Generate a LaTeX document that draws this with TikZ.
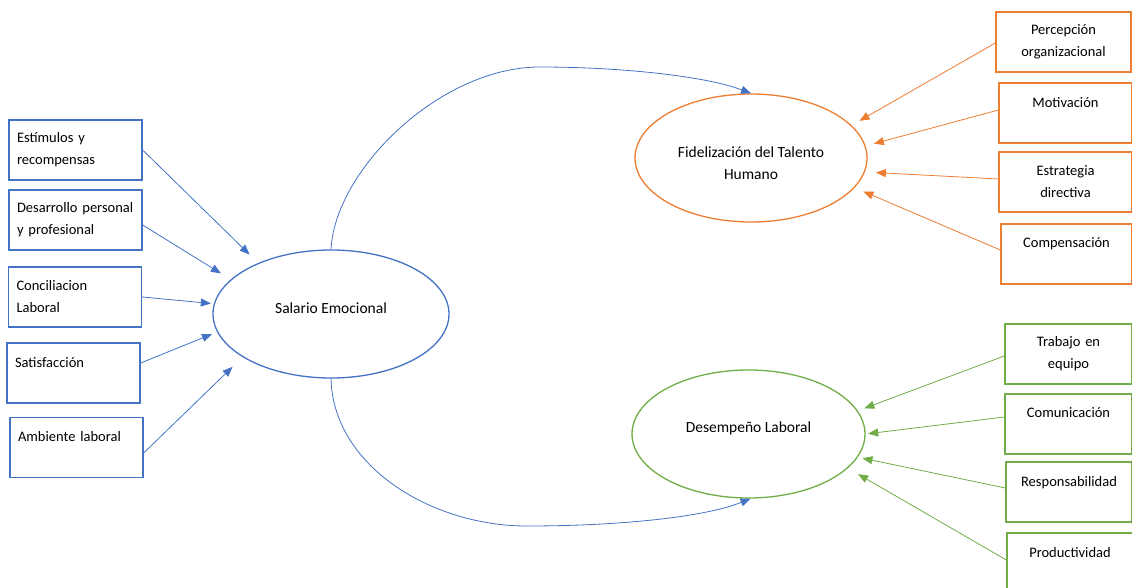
\documentclass[tikz,border=0pt]{standalone}
\usepackage{fontspec}
\setmainfont{Carlito}
\usetikzlibrary{arrows.meta, positioning, shapes.geometric}

\definecolor{salblue}{HTML}{4472C4}
\definecolor{fidorange}{HTML}{ED7D31}
\definecolor{desgreen}{HTML}{70AD47}

\begin{document}
\begin{tikzpicture}[x=1pt, y=-1pt,
  box/.style={draw, line width=1.3pt, minimum height=60pt, inner xsep=8pt, inner ysep=5pt,
    text=black, font=\fontsize{14.5}{22}\selectfont},
  leftbox/.style={box, draw=salblue, minimum width=133pt, text width=117pt, align=left},
  rightbox/.style={box, text width=110pt, align=center},
  oval/.style={ellipse, draw, line width=1.3pt, minimum height=128pt, inner sep=0pt,
    align=center, text=black, font=\fontsize{15.5}{22}\selectfont},
  link/.style={line width=0.8pt, -{Triangle[length=10pt,width=8pt]}}
]
  % Frame
  \clip (0,0) rectangle (1132,588);

  % Constructs
  \node[oval, draw=salblue, minimum width=236pt, text depth=12pt] (salario) at (331,314) {Salario Emocional};
  \node[oval, draw=fidorange, minimum width=232pt, text height=43pt] (fidel) at (751,158) {Fidelización del Talento\\Humano};
  \node[oval, draw=desgreen, minimum width=233pt, text depth=14pt] (desemp) at (748.5,434) {Desempeño Laboral};

  % Left indicators
  \foreach \n/\x/\y/\t in {estim/75.5/150/{Estímulos y\\recompensas},
      desarr/75.5/220/{Desarrollo personal\\y profesional},
      concil/75/297/{Conciliacion\\Laboral},
      satisf/73.5/373/{Satisfacción\\~},
      ambien/76.5/447.5/{Ambiente laboral\\~}} {
    \node[leftbox] (\n) at (\x,\y) {\t};
  }

  % Right indicators
  \foreach \n/\x/\y/\w/\t in {percep/1063.5/42/135/{Percepción\\organizacional},
      motiv/1065.5/113/133/{Motivación\\~},
      estrat/1065.5/182/133/{Estrategia\\directiva},
      compen/1066.5/254/131/{Compensación\\~}} {
    \node[rightbox, draw=fidorange, minimum width=\w pt] (\n) at (\x,\y) {\t};
  }
  \foreach \n/\x/\y/\w/\t in {trabaj/1068.5/354/127/{Trabajo en\\equipo},
      comuni/1068.5/424/127/{Comunicación\\~},
      respon/1069/492/126/{Responsabilidad\\~},
      produc/1070/563/124/{Productividad\\~}} {
    \node[rightbox, draw=desgreen, minimum width=\w pt] (\n) at (\x,\y) {\t};
  }

  % Arrows into the constructs
  \foreach \n/\a/\s/\d in {estim/145/12/0, desarr/161.5/11.5/-5, concil/175.3/3/0,
      satisf/189.6/5.5/10, ambien/206.5/14/-5.5}
    \draw[link, salblue, shorten >=\s pt] ([yshift=\d pt]\n.east) -- (salario.\a);
  \foreach \n/\a/\s/\d in {percep/18.9/9/-1, motiv/6.4/8.6/3, estrat/353.8/11/3,
      compen/344.9/9.6/4}
    \draw[link, fidorange, shorten >=\s pt] ([yshift=\d pt]\n.west) -- (fidel.\a);
  \foreach \n/\a/\s/\d in {trabaj/12.9/7/-2, comuni/0/2.5/7, respon/348.6/4.7/4,
      produc/341.6/11.8/3}
    \draw[link, desgreen, shorten >=\s pt] ([yshift=\d pt]\n.west) -- (desemp.\a);

  % Paths between constructs
  \draw[link, salblue] (salario.north) .. controls (335,170) and (440,67) .. (540,67)
    .. controls (620,67) and (705,76) .. (fidel.north);
  \draw[link, salblue] (salario.south) .. controls (333,465) and (430,526) .. (527,526)
    .. controls (620,526) and (705,517) .. ([xshift=2pt]desemp.south);
\end{tikzpicture}
\end{document}
